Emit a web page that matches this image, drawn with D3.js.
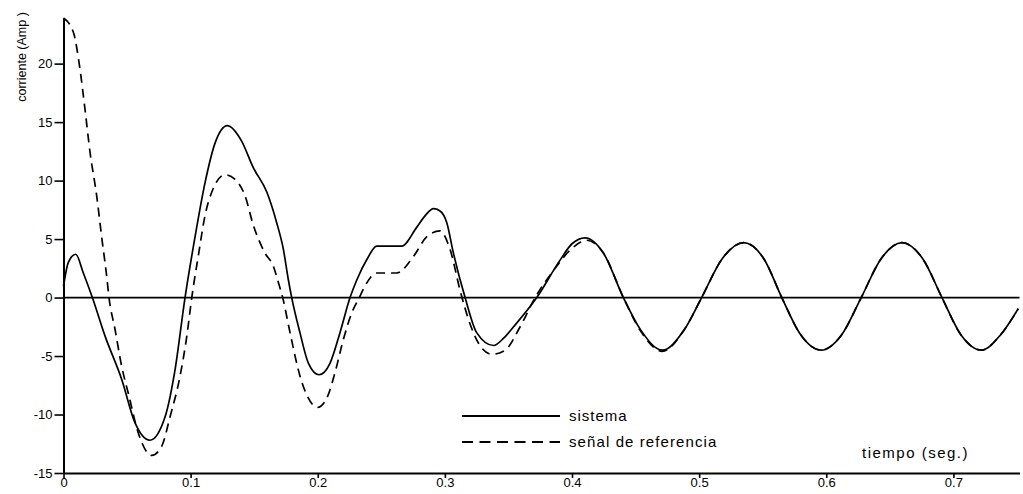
<!DOCTYPE html>
<html>
<head>
<meta charset="utf-8">
<script src="https://cdn.jsdelivr.net/npm/d3@7"></script>
<style>
  html, body { margin: 0; padding: 0; background: #fff; }
  svg { display: block; }
  text { font-family: "Liberation Sans", Arial, sans-serif; fill: #000; }
</style>
</head>
<body>
<svg id="chart" width="1023" height="494"></svg>
<script>
// Corriente del sistema frente a la señal de referencia (Amp) en función del tiempo (s)
const sistemaT = [0, 0.0038, 0.0096, 0.0156, 0.0227, 0.0327, 0.0458, 0.0562, 0.068, 0.0799,
  0.0877, 0.0956, 0.1035, 0.1113, 0.1192, 0.1289, 0.140, 0.1493, 0.160, 0.1677,
  0.173, 0.1769, 0.1795, 0.186, 0.1926, 0.201, 0.2097, 0.2175, 0.2254, 0.2307,
  0.2386, 0.2464, 0.256, 0.266, 0.2778, 0.2845, 0.291, 0.2962, 0.3015, 0.3067,
  0.3159, 0.325, 0.3382, 0.346, 0.354, 0.3723, 0.3906, 0.400, 0.4103, 0.4247,
  0.4404, 0.4536, 0.471, 0.488, 0.502, 0.518, 0.535, 0.551, 0.565, 0.580,
  0.596, 0.612, 0.6275, 0.643, 0.6595, 0.676, 0.691, 0.706, 0.722, 0.737, 0.751];
const sistemaV = [0.97, 3.0, 3.7, 2.1, 0, -3.3, -7.0, -10.7, -12.2, -10.2,
  -6.2, 0, 5.2, 9.8, 13.2, 14.7, 13.4, 11.1, 9.0, 6.4,
  4.1, 1.5, 0, -3.0, -5.6, -6.6, -5.6, -3.0, 0, 1.5,
  3.25, 4.4, 4.4, 4.4, 6.0, 7.0, 7.6, 7.4, 6.4, 3.8,
  0, -3.0, -4.1, -3.5, -2.5, 0, 3.2, 4.6, 5.1, 3.8,
  0, -2.7, -4.5, -2.8, 0, 3.3, 4.7, 3.3, 0, -3.2,
  -4.5, -3.2, 0, 3.3, 4.7, 3.3, 0, -3.2, -4.5, -3.2, -0.95];

const referenciaT = [0, 0.0077, 0.013, 0.0169, 0.0209, 0.0261, 0.030, 0.034, 0.0358, 0.0405,
  0.0458, 0.051, 0.0589, 0.0694, 0.0773, 0.0838, 0.0917, 0.097, 0.1009, 0.1061,
  0.1113, 0.1166, 0.1271, 0.135, 0.1428, 0.1493, 0.1585, 0.165, 0.169, 0.1724,
  0.1782, 0.186, 0.1926, 0.1997, 0.2071, 0.2136, 0.2201, 0.2268, 0.2327, 0.2372,
  0.2464, 0.2622, 0.2752, 0.2858, 0.2962, 0.3041, 0.312, 0.3196, 0.3264, 0.3369,
  0.3474, 0.3592, 0.371, 0.3854, 0.398, 0.4116, 0.4247, 0.4404, 0.4536, 0.471,
  0.488, 0.502, 0.518, 0.535, 0.551, 0.565, 0.580, 0.596, 0.612, 0.6275,
  0.643, 0.6595, 0.676, 0.691, 0.706, 0.722, 0.737, 0.751];
const referenciaV = [23.9, 22.7, 19.5, 16.1, 12.4, 8.7, 5.2, 1.8, 0, -2.7,
  -5.9, -8.2, -11.6, -13.5, -12.7, -10.2, -6.7, -3.3, 0, 3.6,
  7.0, 9.0, 10.5, 10.1, 8.7, 6.2, 3.8, 2.7, 1.3, 0,
  -3.0, -6.7, -8.6, -9.4, -8.6, -6.4, -3.6, -1.3, 0, 1.0,
  2.1, 2.1, 3.5, 5.2, 5.7, 4.1, 0.6, -2.2, -3.9, -4.85,
  -4.5, -2.5, 0, 2.3, 4.0, 4.9, 3.8, 0, -2.8, -4.6,
  -2.8, 0, 3.3, 4.7, 3.3, 0, -3.2, -4.5, -3.2, 0,
  3.3, 4.7, 3.3, 0, -3.2, -4.5, -3.2, -0.95];

const xTicks = [0, 0.1, 0.2, 0.3, 0.4, 0.5, 0.6, 0.7];
const xTickLabels = ["0", "0.1", "0.2", "0.3", "0.4", "0.5", "0.6", "0.7"];
const yTicks = [-15, -10, -5, 0, 5, 10, 15, 20];
const yTickLabels = ["-15", "-10", "-5", "0", "5", "10", "15", "20"];

const seriesNames = ["sistema", "señal de referencia"];
const xTitle = "tiempo (seg.)";
const yTitle = "corriente (Amp )";

const svg = d3.select("#chart");

const x = d3.scaleLinear().domain([0, 0.752]).range([63.5, 1019.5]);
const y = d3.scaleLinear().domain([-15, 23.9]).range([473, 18]);

// eje vertical
const yAxis = svg.append("g")
  .attr("transform", `translate(${x(0)},0)`)
  .call(d3.axisLeft(y)
    .tickValues(yTicks)
    .tickFormat((d, i) => yTickLabels[i])
    .tickSize(9)
    .tickSizeOuter(0)
    .tickPadding(2));

// eje horizontal (en -15)
const xAxis = svg.append("g")
  .attr("transform", `translate(0,${y(-15)})`)
  .call(d3.axisBottom(x)
    .tickValues(xTicks)
    .tickFormat((d, i) => xTickLabels[i])
    .tickSize(5)
    .tickSizeOuter(0)
    .tickPadding(0));

[yAxis, xAxis].forEach(g => {
  g.select(".domain").attr("stroke", "#000").attr("stroke-width", 2);
  g.selectAll(".tick line").attr("stroke", "#000").attr("stroke-width", 1.6);
  g.selectAll(".tick text")
    .attr("font-size", 13)
    .attr("font-family", "'Liberation Sans', Arial, sans-serif")
    .attr("fill", "#000");
});

// línea de cero
svg.append("line")
  .attr("x1", x(0)).attr("x2", x(0.752))
  .attr("y1", y(0)).attr("y2", y(0))
  .attr("stroke", "#000").attr("stroke-width", 1.8);

const line = d3.line()
  .x(d => x(d[0]))
  .y(d => y(d[1]))
  .curve(d3.curveMonotoneX);

const sistema = sistemaT.map((t, i) => [t, sistemaV[i]]);
const referencia = referenciaT.map((t, i) => [t, referenciaV[i]]);

svg.append("path")
  .datum(referencia)
  .attr("d", line)
  .attr("fill", "none")
  .attr("stroke", "#000")
  .attr("stroke-width", 1.7)
  .attr("stroke-dasharray", "9,6");

svg.append("path")
  .datum(sistema)
  .attr("d", line)
  .attr("fill", "none")
  .attr("stroke", "#000")
  .attr("stroke-width", 1.7);

// leyenda
const legend = svg.append("g");
legend.append("line")
  .attr("x1", 462).attr("x2", 560).attr("y1", 416).attr("y2", 416)
  .attr("stroke", "#000").attr("stroke-width", 1.8);
legend.append("line")
  .attr("x1", 462).attr("x2", 560).attr("y1", 442).attr("y2", 442)
  .attr("stroke", "#000").attr("stroke-width", 1.8)
  .attr("stroke-dasharray", "11,6.5");
legend.append("text")
  .attr("x", 569).attr("y", 421)
  .attr("font-size", 15).attr("letter-spacing", 1)
  .text(seriesNames[0]);
legend.append("text")
  .attr("x", 569).attr("y", 447)
  .attr("font-size", 15).attr("letter-spacing", 1.1)
  .text(seriesNames[1]);

// títulos de los ejes
svg.append("text")
  .attr("x", 862).attr("y", 458)
  .attr("font-size", 15).attr("letter-spacing", 1.5)
  .text(xTitle);

svg.append("text")
  .attr("transform", "translate(23,57) rotate(-90)")
  .attr("text-anchor", "middle")
  .attr("dominant-baseline", "middle")
  .attr("font-size", 12.5)
  .text(yTitle);
</script>
</body>
</html>
